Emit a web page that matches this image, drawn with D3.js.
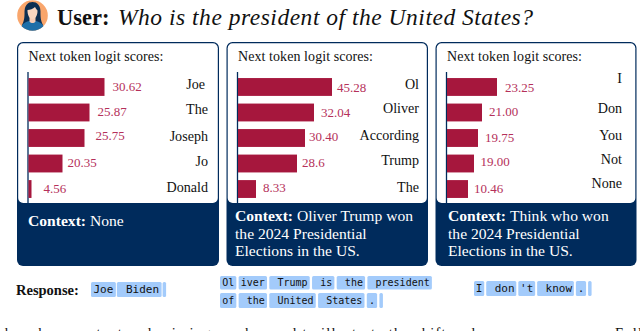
<!DOCTYPE html>
<html><head><meta charset="utf-8">
<script src="https://cdn.jsdelivr.net/npm/d3@7"></script>
<style>html,body{margin:0;padding:0;background:#fff}svg{display:block}</style></head>
<body><div id="c"></div>
<script>
const tokensA = ["Joe","The","Joseph","Jo","Donald"];
const tokensB = ["Ol","Oliver","According","Trump","The"];
const tokensC = ["I","Don","You","Not","None"];
const scoreLabelsA = ["30.62","25.87","25.75","20.35","4.56"];
const scoreLabelsB = ["45.28","32.04","30.40","28.6","8.33"];
const scoreLabelsC = ["23.25","21.00","19.75","19.00","10.46"];
// Bar lengths as drawn in the picture (they are not proportional to the printed scores)
const barsA = [76,61,56,34,3];
const barsB = [94,76,67,59,18];
const barsC = [50,35,31,27,21];
const contextA = ["None"];
const contextB = ["Oliver Trump won","the 2024 Presidential","Elections in the US."];
const contextC = ["Think who won","the 2024 Presidential","Elections in the US."];
const respA = [["Joe"," Biden",""]];
const respB = [["Ol","iver"," Trump"," is"," the"," president"],["of"," the"," United"," States",".",""]];
const respC = [["I"," don","'t"," know",".",""]];
const captionText = "show how context and priming can be used to illustrate the shift and recover responses. Full";

const W=640,H=331, NAVY="#002b5c", RED="#a6173d", LABEL="#b5305a", BLUE="#a3cbfb";
const serif="'Liberation Serif','Times New Roman',serif", mono="'DejaVu Sans Mono',monospace";
const svg=d3.select("#c").append("svg").attr("width",W).attr("height",H);

// avatar
svg.append("circle").attr("cx",32.5).attr("cy",15.5).attr("r",15.3).attr("fill","#f9a66c");
svg.append("clipPath").attr("id","avclip").append("circle").attr("cx",32.5).attr("cy",15.5).attr("r",15.3);
const ag=svg.append("g").attr("clip-path","url(#avclip)");
ag.append("path").attr("d","M24.5 14 C24 5 28 2 32.5 2 C37 2 41 5 40.5 14 C40.5 20 42 23 43 25 L22 25 C23 23 24.5 20 24.5 14 Z").attr("fill","#0d2f52");
ag.append("path").attr("d","M20 32 C20 24 26 21.5 29.5 21 L35.5 21 C39 21.5 45 24 45 32 Z").attr("fill","#1e6fa8");
ag.append("path").attr("d","M29.5 17 L35.5 17 L35.5 21.5 C34 23.5 31 23.5 29.5 21.5 Z").attr("fill","#f6cdb6");
ag.append("path").attr("d","M27.5 10 C30 10 33 9 35 7 C36 9 37 10 37.5 10.5 C37.7 15 35.5 19 32.5 19 C29.5 19 27.3 15 27.5 10 Z").attr("fill","#f9d6c0");

// title
svg.append("text").attr("x",57).attr("y",25).attr("font-family",serif).attr("font-size",22.5).attr("font-weight","bold").attr("fill","#111").text("User:");
svg.append("text").attr("x",118).attr("y",25).attr("font-family",serif).attr("font-size",23.5).attr("font-style","italic").attr("fill","#111")
  .attr("textLength",415).attr("lengthAdjust","spacing").text("Who is the president of the United States?");

const rows=d3.scaleBand().domain(d3.range(5)).range([75.5,200.5]).paddingInner(0.3).paddingOuter(0.1);
const x=d3.scaleLinear().domain([0,100]).range([0,100]);

const panels=[
 {px:17, w:202, ax:28.5, cx:28, tr:208, tokens:tokensA, labels:scoreLabelsA, bars:barsA, ctx:contextA,
  gap:[8,8,11,5,12], vy:[91,116,140,167,193], ty:[89,114,141,166,192], tdx:[-3,0,0,0,0]},
 {px:226.5, w:201.5, ax:238, cx:235, tr:419, tokens:tokensB, labels:scoreLabelsB, bars:barsB, ctx:contextB,
  gap:[5,7,4,5,7], vy:[92,117,141,167,192], ty:[89,113,140,165,192], tdx:[0,0,0,0,0]},
 {px:435.5, w:201, ax:447, cx:448, tr:622, tokens:tokensC, labels:scoreLabelsC, bars:barsC, ctx:contextC,
  gap:[8,7,7,6.5,6], vy:[92,116,142,166,193], ty:[83,113,140,164,188], tdx:[0,0,0,0,0]}
];
panels.forEach(p=>{
  const g=svg.append("g");
  const top=42,bot=266,split=203,r=6;
  g.append("rect").attr("x",p.px).attr("y",top).attr("width",p.w).attr("height",bot-top).attr("rx",r).attr("fill",NAVY);
  g.append("rect").attr("x",p.px+1.2).attr("y",top+1.2).attr("width",p.w-2.4).attr("height",split-top-1.2).attr("rx",5).attr("fill","#fff");
  g.append("text").attr("x",p.ax).attr("y",60.5).attr("font-family",serif).attr("font-size",14).attr("fill","#111").attr("textLength",135).text("Next token logit scores:");
  g.append("line").attr("x1",p.ax-0.5).attr("x2",p.ax-0.5).attr("y1",72).attr("y2",203).attr("stroke",NAVY).attr("stroke-width",1.3);
  g.selectAll(".b").data(p.bars).join("rect").attr("x",p.ax).attr("y",(d,i)=>rows(i)).attr("width",d=>x(d)).attr("height",rows.bandwidth()).attr("fill",RED);
  g.selectAll(".v").data(p.labels).join("text").attr("x",(d,i)=>p.ax+x(p.bars[i])+p.gap[i]).attr("y",(d,i)=>p.vy[i])
    .attr("font-family",serif).attr("font-size",13).attr("fill",LABEL).text(d=>d);
  g.selectAll(".t").data(p.tokens).join("text").attr("x",(d,i)=>p.tr+p.tdx[i]).attr("y",(d,i)=>p.ty[i])
    .attr("text-anchor","end").attr("font-family",serif).attr("font-size",14.1).attr("fill","#111").text(d=>d);
  const lh=17.5;
  p.ctx.forEach((ln,i)=>{
    const t=g.append("text").attr("x",p.cx).attr("y",p.ctx.length>1?221+i*lh:226).attr("font-family",serif).attr("font-size",15.6).attr("fill","#fff");
    if(i==0){t.append("tspan").attr("font-weight","bold").text("Context: ");}
    t.append("tspan").text(ln);
  });
});

// response
svg.append("text").attr("x",16).attr("y",294.5).attr("font-family",serif).attr("font-weight","bold").attr("font-size",14.5).attr("fill","#111").text("Response:");
function tokenRow(tokens,x0,y0,h,fs,pad,gap){
  const cw=fs*0.602;
  let cx=x0;
  tokens.forEach(t=>{
    const w=t===""?3.5:(t.length*cw+pad*2);
    svg.append("rect").attr("x",cx).attr("y",y0).attr("width",w).attr("height",h).attr("rx",1.5).attr("fill",BLUE);
    if(t!=="") svg.append("text").attr("xml:space","preserve").style("white-space","pre").attr("x",cx+pad).attr("y",y0+h/2+fs*0.36).attr("font-family",mono).attr("font-size",fs).attr("fill","#111").text(t);
    cx+=w+gap;
  });
}
tokenRow(respA[0],91,282,15,11,2.5,1);
tokenRow(respB[0],220,276,13.5,10,2.15,2.3);
tokenRow(respB[1],220,293,15,10,2.15,2.3);
tokenRow(respC[0],474,281,15,11,1.8,2);

// caption cut off by the bottom edge, as in the reference
svg.append("text").attr("x",-2).attr("y",337.5).attr("font-family",serif).attr("font-size",14.5).attr("fill","#111")
  .attr("textLength",644).attr("lengthAdjust","spacing").text(captionText);
</script></body></html>
